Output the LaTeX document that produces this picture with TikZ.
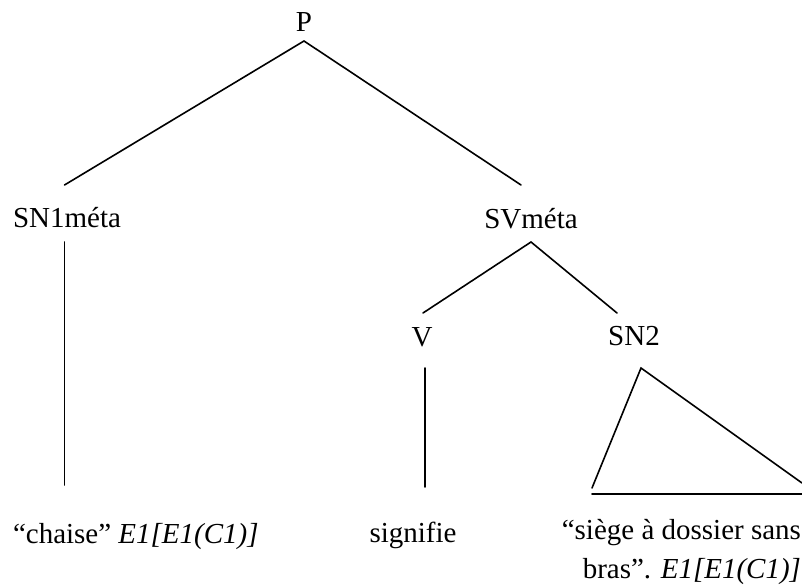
\documentclass[tikz,border=0pt]{standalone}
\usepackage{fontspec}
\setmainfont{Liberation Serif}
\begin{document}
\begin{tikzpicture}[x=0.75pt,y=-0.75pt,
  lbl/.style={inner sep=0pt,outer sep=0pt,font=\fontsize{21.75}{26}\selectfont},
  branch/.style={line width=1.2pt,line cap=round}]
\useasboundingbox (0,0) rectangle (802,585);

% category labels
\node[lbl,anchor=base]      (P)     at (304,32)  {P};
\node[lbl,anchor=base west] (SN1)   at (13,227)  {SN1méta};
\node[lbl,anchor=base]      (SV)    at (531,228) {SVméta};
\node[lbl,anchor=base]      (V)     at (422,346) {V};
\node[lbl,anchor=base]      (SN2)   at (634,345) {SN2};

% terminal strings
\node[lbl,anchor=base west] (chaise) at (13,543)  {“chaise” \textit{E1[E1(C1)]}};
\node[lbl,anchor=base]      (signif) at (413,542) {signifie};
\node[lbl,anchor=base east] (siegeA) at (801,539) {“siège à dossier sans};
\node[lbl,anchor=base east] (siegeB) at (801,578) {bras”. \textit{E1[E1(C1)]}};

% branch end points
\coordinate (P-top)   at (304,41);
\coordinate (SN1-up)  at (64.5,185);
\coordinate (SV-up)   at (521,185);
\coordinate (SN1-dn)  at (64.5,242);
\coordinate (SN1-end) at (64.5,485);
\coordinate (SV-dn)   at (531,242);
\coordinate (V-up)    at (423,313);
\coordinate (SN2-up)  at (617,313);
\coordinate (V-dn)    at (425,368);
\coordinate (V-end)   at (425,487);
\coordinate (tri-top) at (641,368);
\coordinate (tri-l)   at (592,488);
\coordinate (tri-r)   at (802,483);
\coordinate (base-l)  at (592,494);
\coordinate (base-r)  at (802,494);

% branches
\draw[branch] (SN1-up) -- (P-top) -- (SV-up);
\draw[branch] (SN1-dn) -- (SN1-end);
\draw[branch] (V-up) -- (SV-dn) -- (SN2-up);
\draw[branch] (V-dn) -- (V-end);
% SN2 abbreviated by a triangle
\draw[branch] (tri-l) -- (tri-top) -- (tri-r);
\draw[branch] (base-l) -- (base-r);
\end{tikzpicture}
\end{document}
